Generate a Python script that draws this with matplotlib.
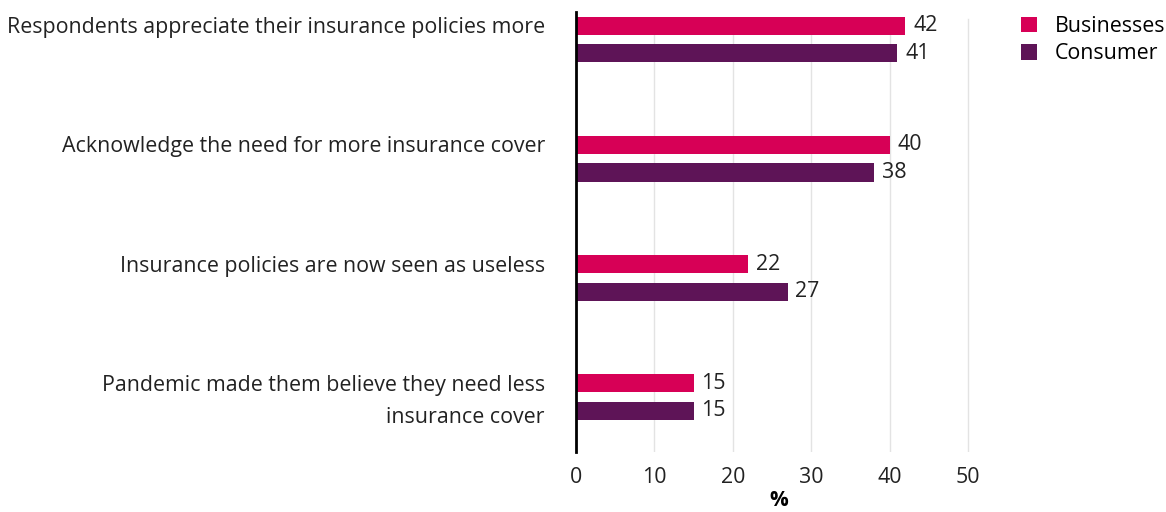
import numpy as np
import matplotlib.pyplot as plt
import matplotlib.transforms as mtransforms

plt.rcParams['font.family'] = ['Open Sans', 'DejaVu Sans']

# survey answers, share of respondents in %
categories = ["Respondents appreciate their insurance policies more",
              "Acknowledge the need for more insurance cover",
              "Insurance policies are now seen as useless",
              "Pandemic made them believe they need less\ninsurance cover"]
businesses = [42, 40, 22, 15]
consumer = [41, 38, 27, 15]
xticks = [0, 10, 20, 30, 40, 50]

pink = '#D70056'
purple = '#5E1457'
fs = 15.4

fig = plt.figure(figsize=(11.66, 5.12), dpi=100)
ax = fig.add_axes([576/1166, 1 - 452/512, (982 - 576)/1166, 440/512])

y = np.arange(len(categories))
h = 0.152
off = 0.116
ax.barh(y - off, businesses, height=h, color=pink, label='Businesses', zorder=3)
ax.barh(y + off, consumer, height=h, color=purple, label='Consumer', zorder=3)

# value labels at the end of each bar
for yi, b, c in zip(y, businesses, consumer):
    ax.text(b + 1.0, yi - off, str(b), va='center', ha='left', fontsize=fs, color='#222222')
    ax.text(c + 1.0, yi + off, str(c), va='center', ha='left', fontsize=fs, color='#222222')

ax.set_ylim(3.46, -0.23)
ax.set_xlim(0, 51.8)

# category labels, first line lined up with the Businesses bar
ax.set_yticks([])
trans = mtransforms.blended_transform_factory(fig.transFigure, ax.transData)
for yi, cat in zip(y, categories):
    for k, line in enumerate(cat.split('\n')):
        ax.text(545/1166, yi - off + 0.063 + 0.266 * k, line, transform=trans,
                ha='right', va='baseline', fontsize=fs, color='#222222')

ax.set_xticks(xticks)
ax.set_xticklabels([str(t) for t in xticks], fontsize=fs, color='#222222')
ax.tick_params(axis='both', length=0)
ax.tick_params(axis='x', pad=11)

for t in xticks[1:]:
    ax.axvline(t, ymin=0, ymax=0.985, color='#e3e3e3', lw=1, zorder=1)

for s in ['top', 'right', 'bottom']:
    ax.spines[s].set_visible(False)
ax.spines['left'].set_color('black')
ax.spines['left'].set_linewidth(2)
ax.spines['left'].set_zorder(4)

ax.set_xlabel('%', fontsize=15, fontweight='bold', labelpad=1)

fig.legend(loc='upper left', bbox_to_anchor=(1021/1166, 1 - 16/512), frameon=False,
           fontsize=fs, handlelength=0.75, handleheight=0.75, handletextpad=0.85,
           labelspacing=0.3, borderpad=0, borderaxespad=0)

fig.savefig('out.png', dpi=100)
